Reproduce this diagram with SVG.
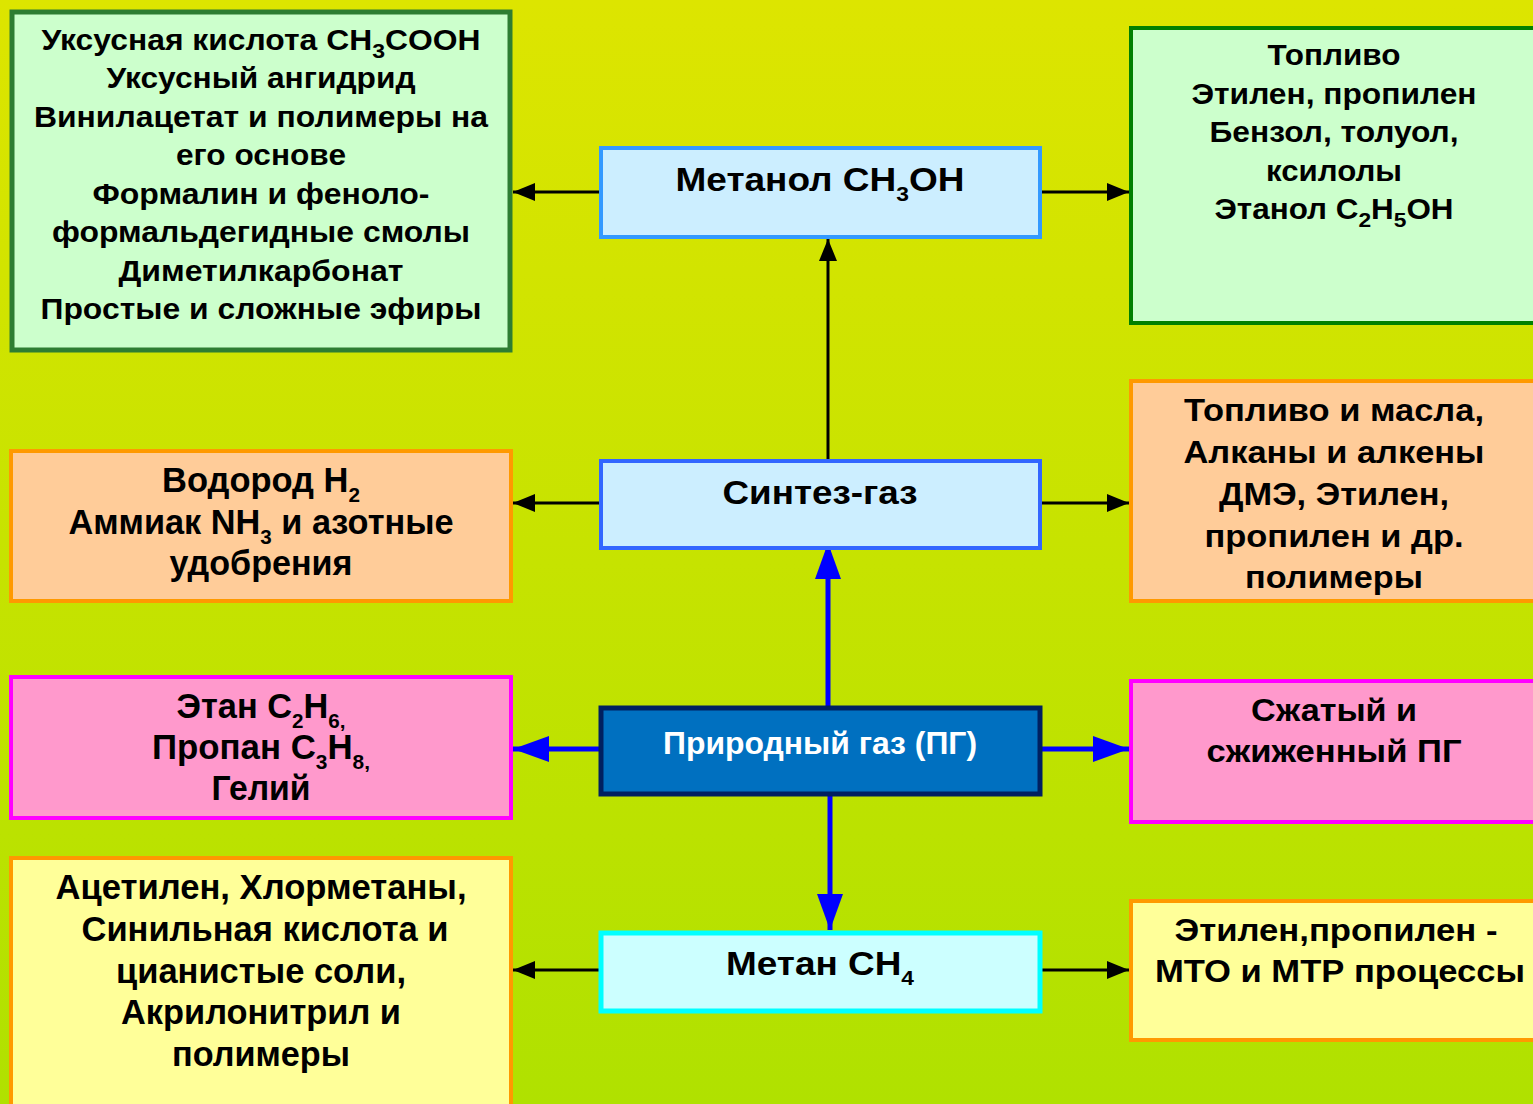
<svg xmlns="http://www.w3.org/2000/svg" width="1533" height="1104" viewBox="0 0 1533 1104">
<defs>
<linearGradient id="bg" x1="0" y1="0" x2="0" y2="1">
<stop offset="0" stop-color="#dde500"/>
<stop offset="1" stop-color="#b0e100"/>
</linearGradient>
<marker id="ab" markerUnits="userSpaceOnUse" markerWidth="24" markerHeight="20" refX="22" refY="10" orient="auto">
<path d="M0,1 L22,10 L0,19 Z" fill="#000"/>
</marker>
<marker id="au" markerUnits="userSpaceOnUse" markerWidth="38" markerHeight="30" refX="36" refY="14" orient="auto">
<path d="M0,1 L36,14 L0,27 Z" fill="#0000ff"/>
</marker>
</defs>
<style>
text{font-family:"Liberation Sans",Arial,sans-serif;font-weight:bold;fill:#000;text-anchor:middle}
.f29{font-size:29px}
.f31{font-size:31px}
.f33{font-size:34px}
.n{font-size:35px}
.w{fill:#fff}
.sub{font-size:21px}
.bl{stroke:#000;stroke-width:3;fill:none;marker-end:url(#ab)}
.bu{stroke:#0000ff;stroke-width:5;fill:none;marker-end:url(#au)}
</style>
<rect width="1533" height="1104" fill="url(#bg)"/>

<g id="connectors">
<line class="bl" x1="600" y1="192" x2="513" y2="192"/>
<line class="bl" x1="1041" y1="192" x2="1129" y2="192"/>
<line class="bl" x1="828" y1="460" x2="828" y2="239"/>
<line class="bl" x1="600" y1="503" x2="513" y2="503"/>
<line class="bl" x1="1041" y1="503" x2="1129" y2="503"/>
<line class="bu" x1="828" y1="710" x2="828" y2="543"/>
<line class="bu" x1="600" y1="749" x2="513" y2="749"/>
<line class="bu" x1="1041" y1="749" x2="1129" y2="749"/>
<line class="bu" x1="830" y1="795" x2="830" y2="930"/>
<line class="bl" x1="600" y1="970" x2="513" y2="970"/>
<line class="bl" x1="1041" y1="970" x2="1129" y2="970"/>
</g>

<g id="acetic">
<rect x="12" y="12" width="498" height="338" fill="#ccffcc" stroke="#2e7d32" stroke-width="5"/>
<text class="f29" x="261" y="50" textLength="439" lengthAdjust="spacingAndGlyphs">Уксусная кислота CH<tspan class="sub" dy="8">3</tspan><tspan dy="-8">COOH</tspan></text>
<text class="f29" x="261" y="88" textLength="309" lengthAdjust="spacingAndGlyphs">Уксусный ангидрид</text>
<text class="f29" x="261" y="127" textLength="454" lengthAdjust="spacingAndGlyphs">Винилацетат и полимеры на</text>
<text class="f29" x="261" y="165" textLength="170" lengthAdjust="spacingAndGlyphs">его основе</text>
<text class="f29" x="261" y="204" textLength="337" lengthAdjust="spacingAndGlyphs">Формалин и феноло-</text>
<text class="f29" x="261" y="242" textLength="418" lengthAdjust="spacingAndGlyphs">формальдегидные смолы</text>
<text class="f29" x="261" y="281" textLength="285" lengthAdjust="spacingAndGlyphs">Диметилкарбонат</text>
<text class="f29" x="261" y="319" textLength="441" lengthAdjust="spacingAndGlyphs">Простые и сложные эфиры</text>
</g>

<g id="methanol">
<rect x="601" y="148" width="439" height="89" fill="#cceeff" stroke="#3399ff" stroke-width="4"/>
<text class="f33" x="820" y="191" textLength="289" lengthAdjust="spacingAndGlyphs">Метанол CH<tspan class="sub" dy="10">3</tspan><tspan dy="-10">OH</tspan></text>
</g>

<g id="fuel">
<rect x="1131" y="28" width="410" height="295" fill="#ccffcc" stroke="#008000" stroke-width="4"/>
<text class="f29" x="1334" y="65" textLength="133" lengthAdjust="spacingAndGlyphs">Топливо</text>
<text class="f29" x="1334" y="104" textLength="285" lengthAdjust="spacingAndGlyphs">Этилен, пропилен</text>
<text class="f29" x="1334" y="142" textLength="249" lengthAdjust="spacingAndGlyphs">Бензол, толуол,</text>
<text class="f29" x="1334" y="181" textLength="136" lengthAdjust="spacingAndGlyphs">ксилолы</text>
<text class="f29" x="1334" y="219" textLength="239" lengthAdjust="spacingAndGlyphs">Этанол C<tspan class="sub" dy="8">2</tspan><tspan dy="-8">H</tspan><tspan class="sub" dy="8">5</tspan><tspan dy="-8">OH</tspan></text>
</g>

<g id="syngas">
<rect x="601" y="461" width="439" height="87" fill="#cceeff" stroke="#3366ff" stroke-width="4"/>
<text class="f33" x="820" y="504" textLength="195" lengthAdjust="spacingAndGlyphs">Синтез-газ</text>
</g>

<g id="hydrogen">
<rect x="11" y="451" width="500" height="150" fill="#ffcc99" stroke="#ff9900" stroke-width="4"/>
<text class="n" x="261" y="492" textLength="198" lengthAdjust="spacingAndGlyphs">Водород H<tspan class="sub" dy="10">2</tspan></text>
<text class="n" x="261" y="534" textLength="385" lengthAdjust="spacingAndGlyphs">Аммиак NH<tspan class="sub" dy="10">3</tspan><tspan dy="-10"> и азотные</tspan></text>
<text class="n" x="261" y="575" textLength="183" lengthAdjust="spacingAndGlyphs">удобрения</text>
</g>

<g id="fuel-oils">
<rect x="1131" y="381" width="410" height="220" fill="#ffcc99" stroke="#ff9900" stroke-width="4"/>
<text class="f31" x="1334" y="421" textLength="300" lengthAdjust="spacingAndGlyphs">Топливо и масла,</text>
<text class="f31" x="1334" y="463" textLength="301" lengthAdjust="spacingAndGlyphs">Алканы и алкены</text>
<text class="f31" x="1334" y="505" textLength="230" lengthAdjust="spacingAndGlyphs">ДМЭ, Этилен,</text>
<text class="f31" x="1334" y="547" textLength="259" lengthAdjust="spacingAndGlyphs">пропилен и др.</text>
<text class="f31" x="1334" y="588" textLength="178" lengthAdjust="spacingAndGlyphs">полимеры</text>
</g>

<g id="natural-gas">
<rect x="601" y="708" width="439" height="86" fill="#0070c0" stroke="#002060" stroke-width="5"/>
<text class="f31 w" x="820" y="754" textLength="314" lengthAdjust="spacingAndGlyphs">Природный газ (ПГ)</text>
</g>

<g id="ethane">
<rect x="11" y="677" width="500" height="141" fill="#ff99cc" stroke="#ff00ff" stroke-width="4"/>
<text class="n" x="261" y="718" textLength="169" lengthAdjust="spacingAndGlyphs">Этан C<tspan class="sub" dy="10">2</tspan><tspan dy="-10">H</tspan><tspan class="sub" dy="10">6,</tspan></text>
<text class="n" x="261" y="759" textLength="218" lengthAdjust="spacingAndGlyphs">Пропан C<tspan class="sub" dy="10">3</tspan><tspan dy="-10">H</tspan><tspan class="sub" dy="10">8,</tspan></text>
<text class="n" x="261" y="800" textLength="99" lengthAdjust="spacingAndGlyphs">Гелий</text>
</g>

<g id="compressed">
<rect x="1131" y="681" width="410" height="141" fill="#ff99cc" stroke="#ff00ff" stroke-width="4"/>
<text class="f31" x="1334" y="721" textLength="166" lengthAdjust="spacingAndGlyphs">Сжатый и</text>
<text class="f31" x="1334" y="762" textLength="255" lengthAdjust="spacingAndGlyphs">сжиженный ПГ</text>
</g>

<g id="methane">
<rect x="601" y="933" width="439" height="78" fill="#ccffff" stroke="#00ffff" stroke-width="5"/>
<text class="f33" x="820" y="975" textLength="188" lengthAdjust="spacingAndGlyphs">Метан CH<tspan class="sub" dy="10">4</tspan></text>
</g>

<g id="acetylene">
<rect x="11" y="858" width="500" height="260" fill="#ffff99" stroke="#ff9900" stroke-width="4"/>
<text class="n" x="261" y="899" textLength="411" lengthAdjust="spacingAndGlyphs">Ацетилен, Хлорметаны,</text>
<text class="n" x="265" y="941" textLength="367" lengthAdjust="spacingAndGlyphs">Синильная кислота и</text>
<text class="n" x="261" y="983" textLength="290" lengthAdjust="spacingAndGlyphs">цианистые соли,</text>
<text class="n" x="261" y="1024" textLength="280" lengthAdjust="spacingAndGlyphs">Акрилонитрил и</text>
<text class="n" x="261" y="1066" textLength="178" lengthAdjust="spacingAndGlyphs">полимеры</text>
</g>

<g id="mto">
<rect x="1131" y="901" width="410" height="139" fill="#ffff99" stroke="#ff9900" stroke-width="4"/>
<text class="f31" x="1336" y="941" textLength="323" lengthAdjust="spacingAndGlyphs">Этилен,пропилен -</text>
<text class="f31" x="1340" y="982" textLength="370" lengthAdjust="spacingAndGlyphs">МТО и МТР процессы</text>
</g>
</svg>
